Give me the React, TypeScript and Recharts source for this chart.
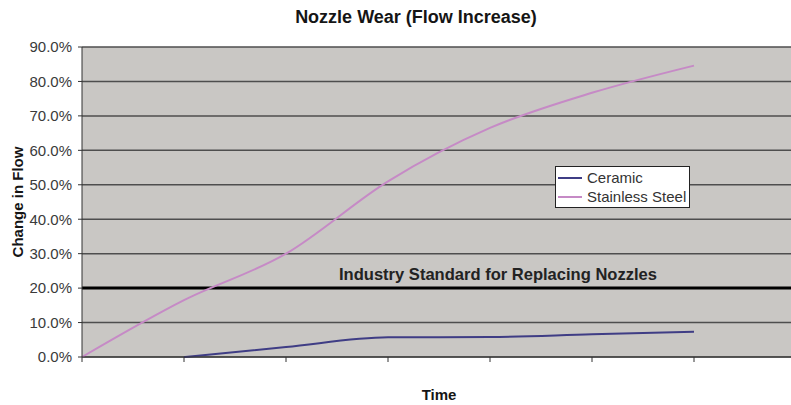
import React from "react";
import {
  LineChart,
  Line,
  XAxis,
  YAxis,
  CartesianGrid,
  Legend,
  ReferenceLine,
} from "recharts";

// time steps (the category axis has no printed labels)
const periods = ["T0", "T1", "T2", "T3", "T4", "T5", "T6", "T7"];
// change in flow, in percent
const ceramic = [null, 0, 2.9, 5.7, 5.8, 6.6, 7.3, null];
const stainlessSteel = [0, 16.5, 30, 51, 66.5, 76.7, 84.6, null];
const yTicks = [0, 10, 20, 30, 40, 50, 60, 70, 80, 90];
const industryStandard = 20;

const data = periods.map((p, i) => ({
  period: p,
  ceramic: ceramic[i],
  stainless: stainlessSteel[i],
}));

const FONT = "'Liberation Sans', Arial, sans-serif";

const renderLegend = (props: any) => {
  const { payload } = props;
  return (
    <div
      style={{
        width: 131,
        height: 39,
        background: "#fff",
        border: "1.5px solid #222",
        fontFamily: FONT,
        fontSize: 15,
        color: "#333",
        padding: "1px 0 0 2px",
        boxSizing: "content-box",
      }}
    >
      {(payload || []).map((entry: any) => (
        <div key={entry.value} style={{ display: "flex", alignItems: "center", height: 19 }}>
          <span style={{ display: "inline-block", width: 24, height: 2, background: entry.color, marginRight: 5 }} />
          <span>{entry.value}</span>
        </div>
      ))}
    </div>
  );
};

export default function App() {
  return (
    <div
      style={{
        position: "fixed",
        left: 0,
        top: 0,
        width: 791,
        height: 405,
        overflow: "hidden",
        background: "#fff",
      }}
    >
      <div
        style={{
          position: "absolute",
          left: 0,
          width: 832,
          top: 7,
          textAlign: "center",
          fontFamily: FONT,
          fontWeight: "bold",
          fontSize: 18,
          lineHeight: "20px",
          color: "#151515",
        }}
      >
        Nozzle Wear (Flow Increase)
      </div>
      <LineChart
        width={800}
        height={405}
        data={data}
        margin={{ top: 47, right: 4, left: 0, bottom: 8 }}
      >
        <CartesianGrid
          vertical={false}
          fill="#c9c7c4"
          fillOpacity={1}
          stroke="#4e4e4e"
          strokeWidth={1.5}
        />
        <XAxis
          dataKey="period"
          height={40}
          stroke="#333"
          tickSize={5}
          tickFormatter={() => ""}
          label={{
            content: ({ viewBox }: any) => (
              <text
                x={viewBox.x + viewBox.width / 2}
                y={400}
                textAnchor="middle"
                fontFamily={FONT}
                fontWeight="bold"
                fontSize={15}
                fill="#151515"
              >
                Time
              </text>
            ),
          }}
        />
        <YAxis
          width={82}
          domain={[0, 90]}
          ticks={yTicks}
          interval={0}
          stroke="#333"
          tickSize={4}
          tickMargin={6}
          tick={{ fontFamily: FONT, fontSize: 15, fill: "#3a3a3a" }}
          tickFormatter={(v: number) => `${v.toFixed(1)}%`}
          label={{
            content: ({ viewBox }: any) => {
              const cy = viewBox.y + viewBox.height / 2;
              return (
                <text
                  x={17}
                  y={cy}
                  transform={`rotate(-90, 17, ${cy})`}
                  textAnchor="middle"
                  dominantBaseline="central"
                  fontFamily={FONT}
                  fontWeight="bold"
                  fontSize={15}
                  fill="#151515"
                >
                  Change in Flow
                </text>
              );
            },
          }}
        />
        <ReferenceLine
          y={industryStandard}
          stroke="#000"
          strokeWidth={3}
          label={{
            content: ({ viewBox }: any) => (
              <text
                x={viewBox.x + viewBox.width / 2 + 59}
                y={viewBox.y - 8}
                textAnchor="middle"
                fontFamily={FONT}
                fontWeight="bold"
                fontSize={17}
                textLength={318}
                lengthAdjust="spacingAndGlyphs"
                fill="#222"
              >
                Industry Standard for Replacing Nozzles
              </text>
            ),
          }}
        />
        <Legend
          layout="vertical"
          align="center"
          verticalAlign="middle"
          content={renderLegend}
          wrapperStyle={{ left: 555, top: 166, width: "auto" }}
        />
        <Line
          type="monotone"
          dataKey="ceramic"
          name="Ceramic"
          stroke="#3f3d85"
          strokeWidth={2}
          dot={false}
          isAnimationActive={false}
        />
        <Line
          type="monotone"
          dataKey="stainless"
          name="Stainless Steel"
          stroke="#c68ac6"
          strokeWidth={2}
          dot={false}
          isAnimationActive={false}
        />
      </LineChart>
    </div>
  );
}
